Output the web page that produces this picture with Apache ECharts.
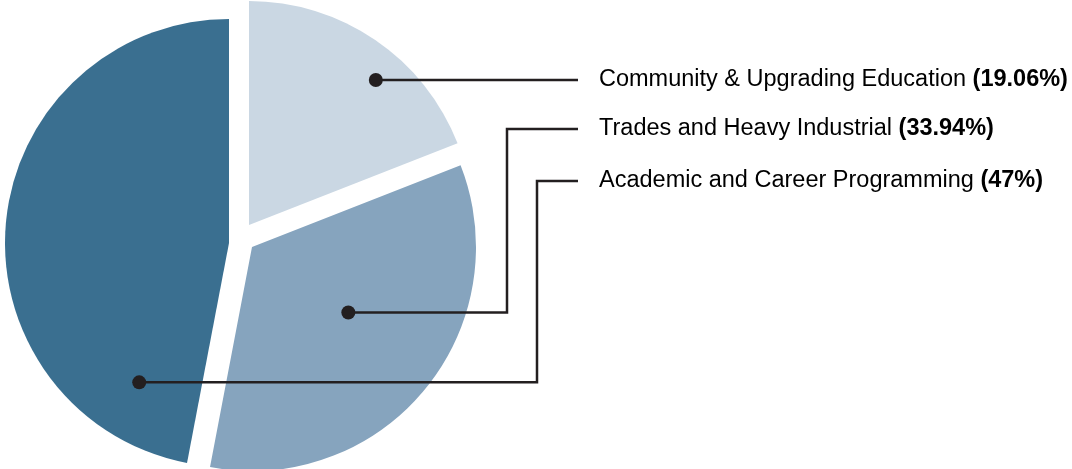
<!DOCTYPE html>
<html>
<head>
<meta charset="utf-8">
<script src="https://cdn.jsdelivr.net/npm/echarts@6/dist/echarts.min.js"></script>
<style>
html,body{margin:0;padding:0;background:#fff;}
#chart{width:1072px;height:469px;}
</style>
</head>
<body>
<div id="chart"></div>
<script>
// ---- data ----
const categories = ['Community & Upgrading Education', 'Trades and Heavy Industrial', 'Academic and Career Programming'];
const values = [19.06, 33.94, 47];
const pctLabels = ['19.06%', '33.94%', '47%'];
const colors = ['#CAD7E3', '#86A4BE', '#3A6F90'];

// ---- layout (exploded slice centres, leader-line geometry) ----
const radius = 224;
const sliceCenters = [[249, 225], [252, 247], [229, 243]];
const anchorAngleFrac = [0.60, 0.455, 0.13];
const anchorRadiusFrac = [0.86, 0.52, 0.74];
const labelY = [80, 129, 181];
const elbowX = [578, 507, 537];
const lineEndX = 578;
const textX = 599;

const chart = echarts.init(document.getElementById('chart'), null, {renderer: 'canvas'});

const total = values.reduce((a, b) => a + b, 0);
const series = sliceCenters.map((c, si) => ({
  type: 'pie',
  center: c,
  radius: [0, radius],
  startAngle: 90,
  clockwise: true,
  silent: true,
  animation: false,
  label: {show: false},
  labelLine: {show: false},
  emphasis: {disabled: true},
  data: categories.map((name, i) => ({
    name,
    value: values[i],
    itemStyle: {color: i === si ? colors[i] : 'rgba(0,0,0,0)', borderWidth: 0}
  }))
}));

// anchor dots computed from slice angles
const graphics = [];
let acc = 0;
values.forEach((v, i) => {
  const startDeg = 90 - acc / total * 360;
  const span = v / total * 360;
  acc += v;
  const a = (startDeg - anchorAngleFrac[i] * span) * Math.PI / 180;
  const r = anchorRadiusFrac[i] * radius;
  const px = sliceCenters[i][0] + r * Math.cos(a);
  const py = sliceCenters[i][1] - r * Math.sin(a);
  const straight = elbowX[i] >= lineEndX;
  const ly = straight ? py : labelY[i];
  graphics.push({
    type: 'polyline',
    silent: true,
    shape: {points: straight ? [[px, py], [lineEndX, py]] : [[px, py], [elbowX[i], py], [elbowX[i], ly], [lineEndX, ly]]},
    style: {stroke: '#231F20', lineWidth: 2.5, fill: null},
    z: 10
  });
  graphics.push({
    type: 'circle',
    silent: true,
    shape: {cx: px, cy: py, r: 7},
    style: {fill: '#231F20'},
    z: 11
  });
  graphics.push({
    type: 'text',
    silent: true,
    x: textX,
    y: ly,
    style: {
      text: '{n|' + categories[i] + ' }{b|(' + pctLabels[i] + ')}',
      verticalAlign: 'middle',
      rich: {
        n: {fontFamily: 'Liberation Sans, Arial, sans-serif', fontSize: 23.5, color: '#3a3a3a'},
        b: {fontFamily: 'Liberation Sans, Arial, sans-serif', fontSize: 23.5, fontWeight: 'bold', color: '#231F20'}
      }
    },
    z: 12
  });
});

chart.setOption({
  animation: false,
  backgroundColor: '#ffffff',
  series: series,
  graphic: graphics
});
</script>
</body>
</html>
